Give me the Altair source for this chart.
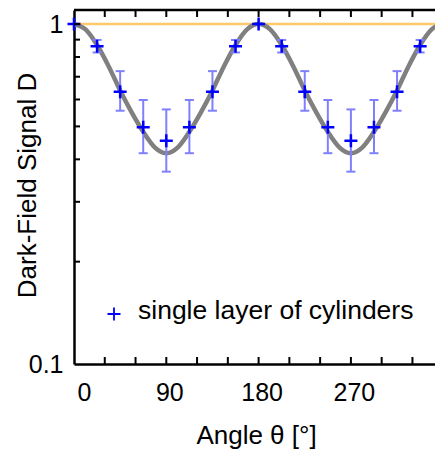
import altair as alt
import pandas as pd

# ---- data ----
angles = [0, 22.5, 45, 67.5, 90, 112.5, 135, 157.5, 180,
          202.5, 225, 247.5, 270, 292.5, 315, 337.5]
signal = [1.0, 0.86, 0.632, 0.497, 0.454, 0.497, 0.632, 0.86, 1.0,
          0.86, 0.632, 0.497, 0.454, 0.497, 0.632, 0.86]
err_lo = [1.0, 0.825, 0.556, 0.417, 0.368, 0.417, 0.556, 0.825, 1.0,
          0.825, 0.556, 0.417, 0.368, 0.417, 0.556, 0.825]
err_hi = [1.0, 0.898, 0.727, 0.598, 0.561, 0.598, 0.727, 0.898, 1.0,
          0.898, 0.727, 0.598, 0.561, 0.598, 0.727, 0.898]

fit_angles = [0, 11.25, 22.5, 33.75, 45, 56.25, 67.5, 78.75, 90,
              101.25, 112.5, 123.75, 135, 146.25, 157.5, 168.75, 180,
              191.25, 202.5, 213.75, 225, 236.25, 247.5, 258.75, 270,
              281.25, 292.5, 303.75, 315, 326.25, 337.5, 348.75, 360]
fit_signal = [1.0, 0.965, 0.868, 0.752, 0.638, 0.55, 0.482, 0.434, 0.417,
              0.434, 0.482, 0.55, 0.638, 0.752, 0.868, 0.965, 1.0,
              0.965, 0.868, 0.752, 0.638, 0.55, 0.482, 0.434, 0.417,
              0.434, 0.482, 0.55, 0.638, 0.752, 0.868, 0.965, 1.0]

x_tick_values = [30, 60, 90, 120, 150, 180, 210, 240, 270, 300, 330]
x_label_values = [0, 90, 180, 270]
y_tick_values = [0.2, 0.3, 0.4, 0.5, 0.6, 0.7, 0.8, 0.9, 1.0]
y_label_values = [0.1, 1]
reference_level = [1.0]
legend_label = ["single layer of cylinders"]

x_title = "Angle θ [°]"
y_title = "Dark-Field Signal D"

# ---- layout ----
W, H = 361, 354
FONT = "Liberation Sans"

pts = pd.DataFrame({"angle": angles, "signal": signal, "lo": err_lo, "hi": err_hi})
err = pts[pts["hi"] > pts["lo"]]
fit = pd.DataFrame({"angle": fit_angles, "signal": fit_signal})
xt = pd.DataFrame({"angle": x_tick_values})
yt = pd.DataFrame({"signal": y_tick_values})
ref = pd.DataFrame({"signal": reference_level})
leg = pd.DataFrame({"label": legend_label})

xs = alt.Scale(domain=[0, 352], nice=False, zero=False)
ys = alt.Scale(type="log", domain=[0.1, 1.1], nice=False)

x_axis = alt.Axis(values=x_label_values, ticks=False, grid=False, domainColor="black",
                  domainWidth=2.5, labelFontSize=25, labelColor="black", labelFont=FONT,
                  labelPadding=16, labelOffset=3, title=x_title, titleFontSize=26,
                  titleFont=FONT, titleFontWeight="normal", titleColor="black",
                  titleX=182, titleY=79, titleBaseline="alphabetic")
y_axis = alt.Axis(values=y_label_values, format="~g", ticks=False, grid=False,
                  domainColor="black", domainWidth=2.5, labelFontSize=25,
                  labelColor="black", labelFont=FONT, labelPadding=11,
                  title=y_title, titleFontSize=26, titleFont=FONT,
                  titleFontWeight="normal", titleColor="black",
                  titleX=-39, titleY=175, titleBaseline="alphabetic", titleAngle=270)


def X(f):
    return alt.X(f + ":Q", scale=xs, axis=x_axis)


def Y(f):
    return alt.Y(f + ":Q", scale=ys, axis=y_axis)


plus = "M-1,0H1M0,-1V1"

ref_line = alt.Chart(ref).mark_rule(color="#FFC86A", strokeWidth=2.5).encode(
    y=Y("signal"), x=alt.value(0), x2=alt.value(W))

curve = alt.Chart(fit).mark_line(color="#808080", strokeWidth=4.5, clip=True,
                                 interpolate="monotone").encode(x=X("angle"), y=Y("signal"))

bars = alt.Chart(err).mark_rule(color="#8080FF", strokeWidth=2).encode(
    x=X("angle"), y=Y("lo"), y2="hi")
cap_lo = alt.Chart(err).mark_tick(color="#8080FF", orient="horizontal", size=9,
                                  thickness=2, opacity=1).encode(x=X("angle"), y=Y("lo"))
cap_hi = alt.Chart(err).mark_tick(color="#8080FF", orient="horizontal", size=9,
                                  thickness=2, opacity=1).encode(x=X("angle"), y=Y("hi"))

points = alt.Chart(pts).mark_point(shape=plus, size=169, filled=False, color="#0000FF",
                                   strokeWidth=2.5, opacity=1).encode(x=X("angle"), y=Y("signal"))

top_frame = alt.Chart(ref).mark_rule(color="black", strokeWidth=2.5).encode(
    x=alt.value(0), x2=alt.value(W), y=alt.value(0))
x_ticks_bottom = alt.Chart(xt).mark_rule(color="black", strokeWidth=2).encode(
    x=X("angle"), y=alt.value(H - 7), y2=alt.value(H))
x_ticks_top = alt.Chart(xt).mark_rule(color="black", strokeWidth=2).encode(
    x=X("angle"), y=alt.value(0), y2=alt.value(7))
y_ticks = alt.Chart(yt).mark_rule(color="black", strokeWidth=2).encode(
    y=Y("signal"), x=alt.value(0), x2=alt.value(6))

leg_mark = alt.Chart(leg).mark_point(shape=plus, size=169, filled=False, color="#0000FF",
                                     strokeWidth=1.8, opacity=1).encode(
    x=alt.value(40), y=alt.value(304))
leg_text = alt.Chart(leg).mark_text(align="left", baseline="alphabetic", fontSize=26.5,
                                    font=FONT, color="black").encode(
    x=alt.value(64), y=alt.value(309), text="label:N")

chart = alt.layer(
    ref_line, curve, bars, cap_lo, cap_hi, points,
    top_frame, x_ticks_bottom, x_ticks_top, y_ticks, leg_mark, leg_text
).properties(
    width=W, height=H,
    autosize=alt.AutoSizeParams(type="none"),
    padding={"left": 74, "top": 10, "right": 0, "bottom": 88},
    background="white",
).configure_view(stroke=None)

chart.save("out.html", embed_options={"renderer": "svg", "actions": False})
